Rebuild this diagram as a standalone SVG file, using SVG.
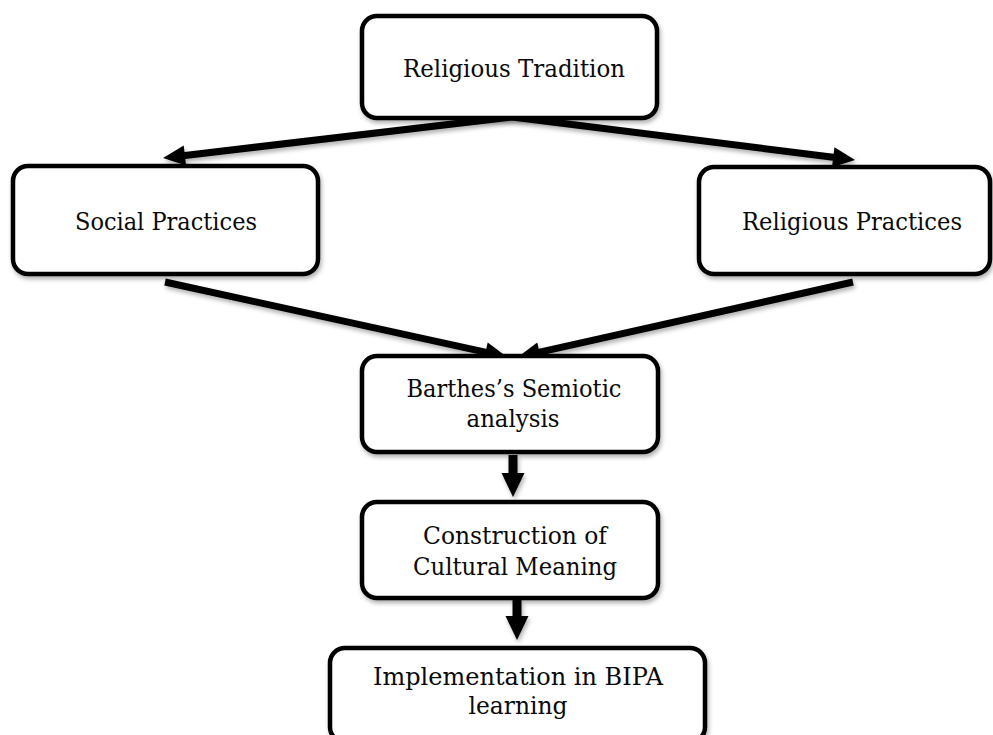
<svg xmlns="http://www.w3.org/2000/svg" width="993" height="735" viewBox="0 0 993 735">
<style>
.box{fill:#fff;stroke:#000;stroke-width:4.5;filter:url(#sh)}
.lbl{font-family:"DejaVu Serif","Liberation Serif",serif;font-size:24px;fill:#0a0a0a;text-anchor:middle}
.conn{stroke:#000;stroke-width:7;fill:none;filter:url(#sh)}
.connv{stroke:#000;stroke-width:9;fill:none;filter:url(#sh)}
</style>
<defs>
<filter id="sh" filterUnits="userSpaceOnUse" x="0" y="0" width="993" height="735">
<feDropShadow dx="1.5" dy="3" stdDeviation="2" flood-color="#000" flood-opacity="0.3"/>
</filter>
<marker id="ah" markerUnits="userSpaceOnUse" markerWidth="30" markerHeight="30" viewBox="-5 -15 30 30" refX="2" refY="0" orient="auto">
<path d="M0,-10 L22,0 L0,10 z" fill="#000"/>
</marker>
<marker id="ahv" markerUnits="userSpaceOnUse" markerWidth="32" markerHeight="32" viewBox="-5 -16 32 32" refX="2" refY="0" orient="auto">
<path d="M0,-11.5 L24,0 L0,11.5 z" fill="#000"/>
</marker>
</defs>
<rect width="993" height="735" fill="#fff"/>
<g id="connectors">
<line class="conn" x1="512" y1="117" x2="182.9" y2="155.7" marker-end="url(#ah)"/>
<line class="conn" x1="512" y1="117" x2="835.2" y2="157.5" marker-end="url(#ah)"/>
<line class="conn" x1="165" y1="282" x2="487.5" y2="352.7" marker-end="url(#ah)"/>
<line class="conn" x1="853" y1="282" x2="537.5" y2="352.6" marker-end="url(#ah)"/>
<line class="connv" x1="513" y1="455" x2="513" y2="475" marker-end="url(#ahv)"/>
<line class="connv" x1="517" y1="600" x2="517" y2="618" marker-end="url(#ahv)"/>
</g>
<g id="religious-tradition">
<rect class="box" x="362" y="16" width="295" height="102" rx="15"/>
<text class="lbl" x="514" y="77" textLength="222" lengthAdjust="spacingAndGlyphs">Religious Tradition</text>
</g>
<g id="social-practices">
<rect class="box" x="13" y="166" width="305" height="108" rx="15"/>
<text class="lbl" x="166" y="230" textLength="182" lengthAdjust="spacingAndGlyphs">Social Practices</text>
</g>
<g id="religious-practices">
<rect class="box" x="699" y="167" width="291" height="107" rx="15"/>
<text class="lbl" x="852" y="230" textLength="220" lengthAdjust="spacingAndGlyphs">Religious Practices</text>
</g>
<g id="barthes-semiotic-analysis">
<rect class="box" x="362" y="356" width="296" height="96" rx="15"/>
<text class="lbl" x="514" y="397" textLength="215" lengthAdjust="spacingAndGlyphs">Barthes’s Semiotic</text>
<text class="lbl" x="513" y="427" textLength="93" lengthAdjust="spacingAndGlyphs">analysis</text>
</g>
<g id="construction-of-cultural-meaning">
<rect class="box" x="362" y="502" width="296" height="96" rx="15"/>
<text class="lbl" x="515" y="544" textLength="184" lengthAdjust="spacingAndGlyphs">Construction of</text>
<text class="lbl" x="515" y="575" textLength="204" lengthAdjust="spacingAndGlyphs">Cultural Meaning</text>
</g>
<g id="implementation-in-bipa-learning">
<rect class="box" x="330" y="648" width="375" height="94" rx="15"/>
<text class="lbl" x="518" y="685" textLength="290" lengthAdjust="spacingAndGlyphs">Implementation in BIPA</text>
<text class="lbl" x="518" y="714" textLength="99" lengthAdjust="spacingAndGlyphs">learning</text>
</g>
</svg>
